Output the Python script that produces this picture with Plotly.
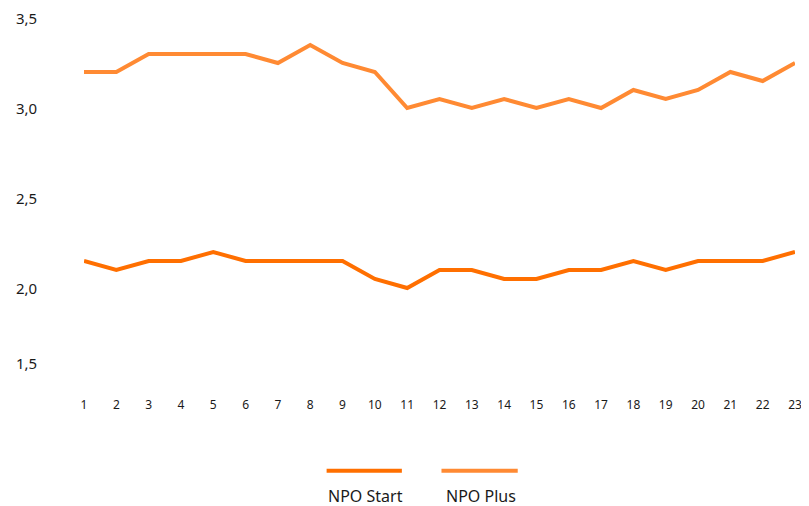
import plotly.graph_objects as go

episodes = list(range(1, 24))
npo_start = [2.15, 2.1, 2.15, 2.15, 2.2, 2.15, 2.15, 2.15, 2.15, 2.05, 2.0, 2.1,
             2.1, 2.05, 2.05, 2.1, 2.1, 2.15, 2.1, 2.15, 2.15, 2.15, 2.2]
npo_plus = [3.2, 3.2, 3.3, 3.3, 3.3, 3.3, 3.25, 3.35, 3.25, 3.2, 3.0, 3.05,
            3.0, 3.05, 3.0, 3.05, 3.0, 3.1, 3.05, 3.1, 3.2, 3.15, 3.25]
series_names = ["NPO Start", "NPO Plus"]
y_tick_vals = [1.5, 2.0, 2.5, 3.0, 3.5]
y_tick_text = ["1,5", "2,0", "2,5", "3,0", "3,5"]

COL_START = "#FF6F00"
COL_PLUS = "#FF8A33"
FONT = "'Noto Sans', sans-serif"
TXT = "#1a1a1a"

# page body has an 8px margin, so the figure fills the remaining area
W, H = 801, 498
ML, MR, MT, MB = 76, 7, 10, 128
PW, PH = W - ML - MR, H - MT - MB


def px_x(px):
    return (px - ML) / PW


def px_y(py):
    return (H - MB - py) / PH


fig = go.Figure()
fig.add_trace(go.Scatter(x=episodes, y=npo_start, mode="lines", name=series_names[0],
                         line=dict(color=COL_START, width=4), showlegend=False))
fig.add_trace(go.Scatter(x=episodes, y=npo_plus, mode="lines", name=series_names[1],
                         line=dict(color=COL_PLUS, width=4), showlegend=False))

annotations = []
for v, t in zip(y_tick_vals, y_tick_text):
    annotations.append(dict(x=0, xref="paper", y=v, yref="y", text=t, showarrow=False,
                            xanchor="right", xshift=-45, yshift=15 if v == 1.5 else 0,
                            font=dict(family=FONT, size=15, color=TXT)))

# custom legend: line sample above centred label
legend_items = [(series_names[0], COL_START, 321, 397), (series_names[1], COL_PLUS, 437, 514)]
shapes = []
for name, col, x0, x1 in legend_items:
    shapes.append(dict(type="line", xref="paper", yref="paper",
                       x0=px_x(x0), x1=px_x(x1), y0=px_y(462.7), y1=px_y(462.7),
                       line=dict(color=col, width=4)))
    annotations.append(dict(x=px_x((x0 + x1) / 2 + 1), xref="paper", y=px_y(487.5), yref="paper",
                            text=name, showarrow=False, xanchor="center", yanchor="middle",
                            font=dict(family=FONT, size=16, color=TXT)))

fig.update_layout(
    width=W, height=H,
    margin=dict(l=ML, r=MR, t=MT, b=MB),
    paper_bgcolor="white", plot_bgcolor="white",
    showlegend=False,
    annotations=annotations, shapes=shapes,
    xaxis=dict(range=[1, 23], tickvals=episodes, ticktext=[str(e) for e in episodes],
               showgrid=False, zeroline=False, showline=False,
               ticks="outside", ticklen=16, tickcolor="rgba(0,0,0,0)",
               tickfont=dict(family=FONT, size=12, color=TXT)),
    yaxis=dict(range=[1.5, 3.5], showgrid=False, zeroline=False, showline=False,
               showticklabels=False, tickvals=y_tick_vals),
)

fig.write_html("out.html")
